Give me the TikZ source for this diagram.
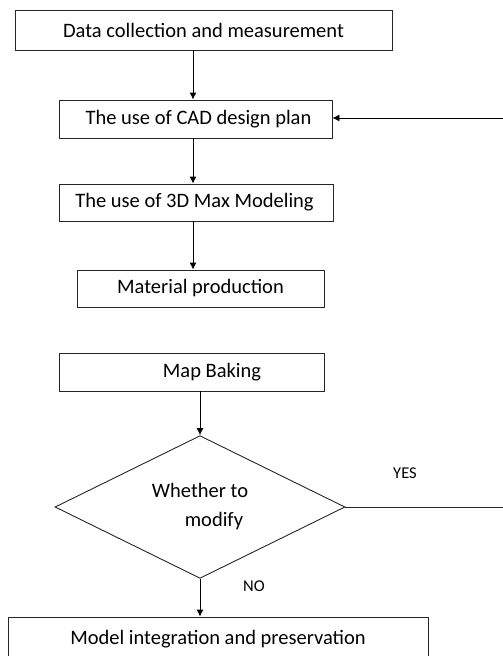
\documentclass[tikz,border=0pt]{standalone}
\usepackage{fontspec}
\setmainfont{Carlito}
\usetikzlibrary{shapes.geometric,arrows.meta}
\begin{document}
\begin{tikzpicture}[x=1pt,y=-1pt,
  box/.style={draw=black!85, line width=0.9pt, minimum height=38pt, inner sep=0pt, font=\fontsize{20.5}{22}\selectfont},
  arr/.style={draw=black, line width=0.9pt, -{Latex[length=7pt,width=7pt]}},
  lbl/.style={font=\fontsize{16.5}{18}\selectfont, inner sep=0pt}]
\useasboundingbox (0,0) rectangle (503,656);
\node[box, minimum width=377pt, minimum height=40pt] (b1) at (203.5,30) {Data collection and measurement};
\node[box, minimum width=273pt] (b2) at (195.5,119) {\hspace*{6pt}The use of CAD design plan};
\node[box, minimum width=274pt, minimum height=37pt] (b3) at (196,202.5) {\hspace*{-3pt}The use of 3D Max Modeling};
\node[box, minimum width=247pt, minimum height=37pt] (b4) at (200.5,288.5) {Material production};
\node[box, minimum width=265pt] (b5) at (191.5,372) {\hspace*{41pt}Map Baking};
\node[diamond, draw=black!85, line width=0.9pt, minimum width=290pt, minimum height=136pt, inner sep=0pt, align=center, font=\fontsize{20.5}{29}\selectfont] (dia) at (200,507) {Whether to\\\hspace*{28pt}modify};
\node[box, minimum width=420pt, minimum height=44pt] (b6) at (218,639) {Model integration and preservation};
\coordinate (ax) at (193,0);
\coordinate (r1) at (504,118);
\coordinate (r2) at (504,507);
\draw[arr] (b1.south -| ax) -- (b2.north -| ax);
\draw[arr] (b2.south -| ax) -- (b3.north -| ax);
\draw[arr] (b3.south -| ax) -- (b4.north -| ax);
\draw[arr] (r1) -- (b2.east |- r1);
\draw[arr] (b5.south -| dia.north) -- (dia.north);
\draw[draw=black!85, line width=0.9pt] (dia.east) -- (r2);
\draw[arr] (dia.south) -- (b6.north -| dia.south);
\node[lbl] (yes) at (405,473) {YES};
\node[lbl] (no) at (254,586) {NO};
\end{tikzpicture}
\end{document}
